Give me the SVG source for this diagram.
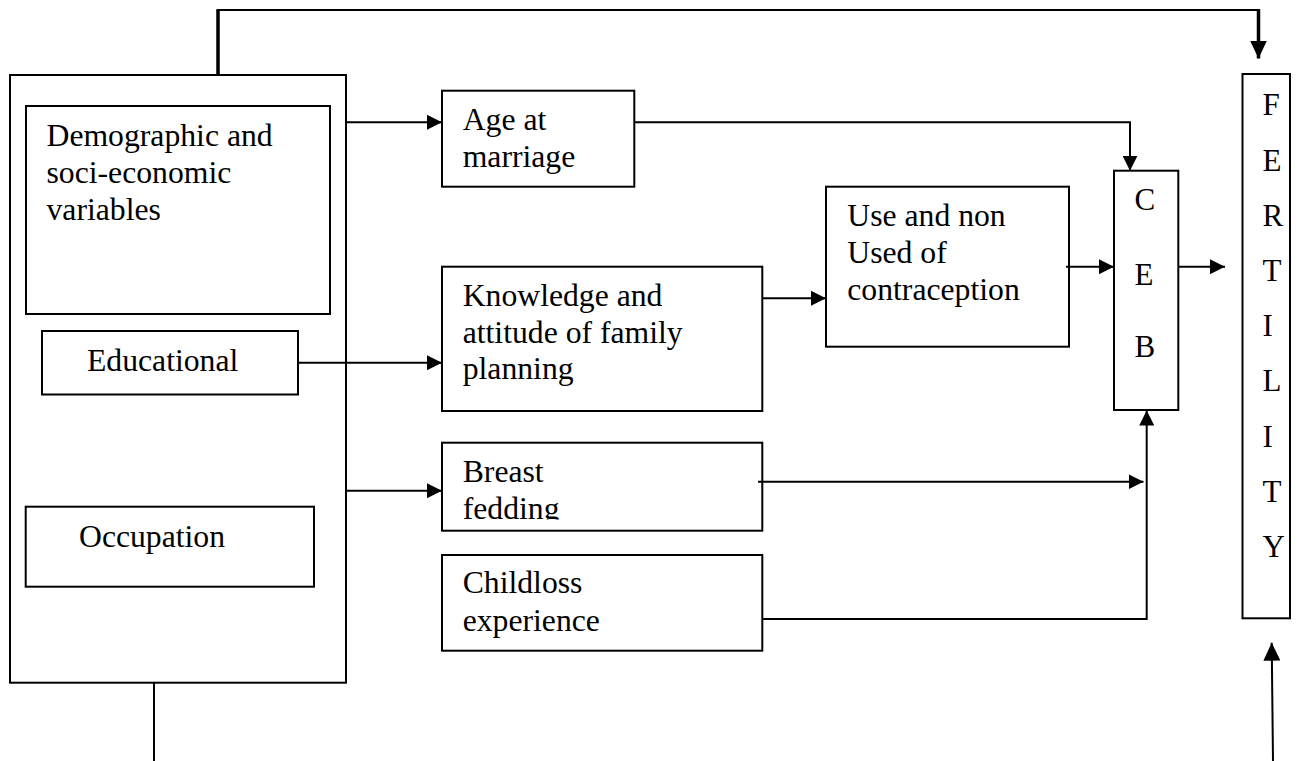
<svg xmlns="http://www.w3.org/2000/svg" width="1301" height="761" viewBox="0 0 1301 761">
<style>
  .box { fill: none; stroke: #000; stroke-width: 2; }
  .t { font-family: 'Liberation Serif', 'Times New Roman', Tinos, 'DejaVu Serif', serif; font-size: 31.7px; fill: #000; }
  .l { font-family: 'Liberation Serif', 'Times New Roman', Tinos, 'DejaVu Serif', serif; font-size: 31px; fill: #000; }
  .c { fill: none; stroke: #000; stroke-width: 2; }
  .thick { fill: none; stroke: #000; stroke-width: 3.5; }
</style>
<defs>
  <marker id="arr" markerUnits="userSpaceOnUse" markerWidth="15" markerHeight="15" refX="15" refY="7.5" orient="auto">
    <path d="M0,0 L15,7.5 L0,15 z" fill="#000"/>
  </marker>
  <marker id="arrBig" markerUnits="userSpaceOnUse" markerWidth="18" markerHeight="17" refX="18" refY="8.5" orient="auto">
    <path d="M0,0 L18,8.5 L0,17 z" fill="#000"/>
  </marker>
  <clipPath id="breastClip">
    <rect x="442" y="443" width="320" height="76.5"/>
  </clipPath>
</defs>
<rect width="1301" height="761" fill="#fff"/>

<g id="connectors">
  <line class="thick" x1="218" y1="75" x2="218" y2="10"/>
  <line class="c" x1="216.5" y1="10" x2="1260" y2="10"/>
  <line class="thick" x1="1258.5" y1="9" x2="1258.5" y2="58.5" marker-end="url(#arrBig)"/>
  <line class="c" x1="346" y1="122.3" x2="442" y2="122.3" marker-end="url(#arr)"/>
  <path class="c" d="M634,122.3 H1130 V170.7" marker-end="url(#arr)"/>
  <line class="c" x1="298" y1="362.7" x2="442" y2="362.7" marker-end="url(#arr)"/>
  <line class="c" x1="762" y1="298.3" x2="826" y2="298.3" marker-end="url(#arr)"/>
  <line class="c" x1="1066" y1="266.7" x2="1114" y2="266.7" marker-end="url(#arr)"/>
  <line class="c" x1="1178" y1="266.7" x2="1225" y2="266.7" marker-end="url(#arr)"/>
  <line class="c" x1="346" y1="490.7" x2="442" y2="490.7" marker-end="url(#arr)"/>
  <line class="c" x1="758" y1="481.7" x2="1143.5" y2="481.7" marker-end="url(#arr)"/>
  <path class="c" d="M762,619 H1146.7 V410.5" marker-end="url(#arr)"/>
  <line class="c" x1="154" y1="682.7" x2="154" y2="761"/>
  <line class="c" x1="1273" y1="761" x2="1271.7" y2="642.7" marker-end="url(#arrBig)"/>
</g>

<g id="outer">
  <rect class="box" x="10" y="75" width="336" height="607.7"/>
</g>

<g id="demographic">
  <rect class="box" x="26" y="106" width="304" height="208"/>
  <text class="t" x="46.5" y="145.7">Demographic and</text>
  <text class="t" x="46.5" y="182.7">soci-economic</text>
  <text class="t" x="46.5" y="220">variables</text>
</g>

<g id="educational">
  <rect class="box" x="42" y="331" width="256" height="63.5"/>
  <text class="t" x="87" y="370.5">Educational</text>
</g>

<g id="occupation">
  <rect class="box" x="25.7" y="506.7" width="288.3" height="80"/>
  <text class="t" x="79" y="546.7">Occupation</text>
</g>

<g id="age">
  <rect class="box" x="442" y="90.7" width="192.3" height="96"/>
  <text class="t" x="462.7" y="130">Age at</text>
  <text class="t" x="462.7" y="167">marriage</text>
</g>

<g id="knowledge">
  <rect class="box" x="442" y="266.7" width="320.3" height="144.3"/>
  <text class="t" x="462.7" y="306">Knowledge and</text>
  <text class="t" x="462.7" y="342.7">attitude of family</text>
  <text class="t" x="462.7" y="379">planning</text>
</g>

<g id="use">
  <rect class="box" x="826" y="186.7" width="243" height="160"/>
  <text class="t" x="847.3" y="226">Use and non</text>
  <text class="t" x="847.3" y="262.7">Used of</text>
  <text class="t" x="847.3" y="300">contraception</text>
</g>

<g id="breast">
  <rect class="box" x="442" y="442.7" width="320.3" height="88"/>
  <g clip-path="url(#breastClip)">
    <text class="t" x="462.7" y="482.3">Breast</text>
    <text class="t" x="462.7" y="519">fedding</text>
  </g>
</g>

<g id="childloss">
  <rect class="box" x="442" y="555" width="320.3" height="95.7"/>
  <text class="t" x="462.7" y="593.3">Childloss</text>
  <text class="t" x="462.7" y="630.7">experience</text>
</g>

<g id="ceb">
  <rect class="box" x="1114" y="170.7" width="64.3" height="239.3"/>
  <text class="l" x="1134.5" y="210">C</text>
  <text class="l" x="1134.5" y="284.5">E</text>
  <text class="l" x="1134.5" y="357">B</text>
</g>

<g id="fertility">
  <rect class="box" x="1242.5" y="74" width="47.5" height="544.3"/>
  <text class="l" x="1262.5" y="115">F</text>
  <text class="l" x="1262.5" y="170.5">E</text>
  <text class="l" x="1262.5" y="225.7">R</text>
  <text class="l" x="1262.5" y="280.9">T</text>
  <text class="l" x="1262.5" y="336.1">I</text>
  <text class="l" x="1262.5" y="391.3">L</text>
  <text class="l" x="1262.5" y="446.5">I</text>
  <text class="l" x="1262.5" y="501.7">T</text>
  <text class="l" x="1262.5" y="556.9">Y</text>
</g>
</svg>
